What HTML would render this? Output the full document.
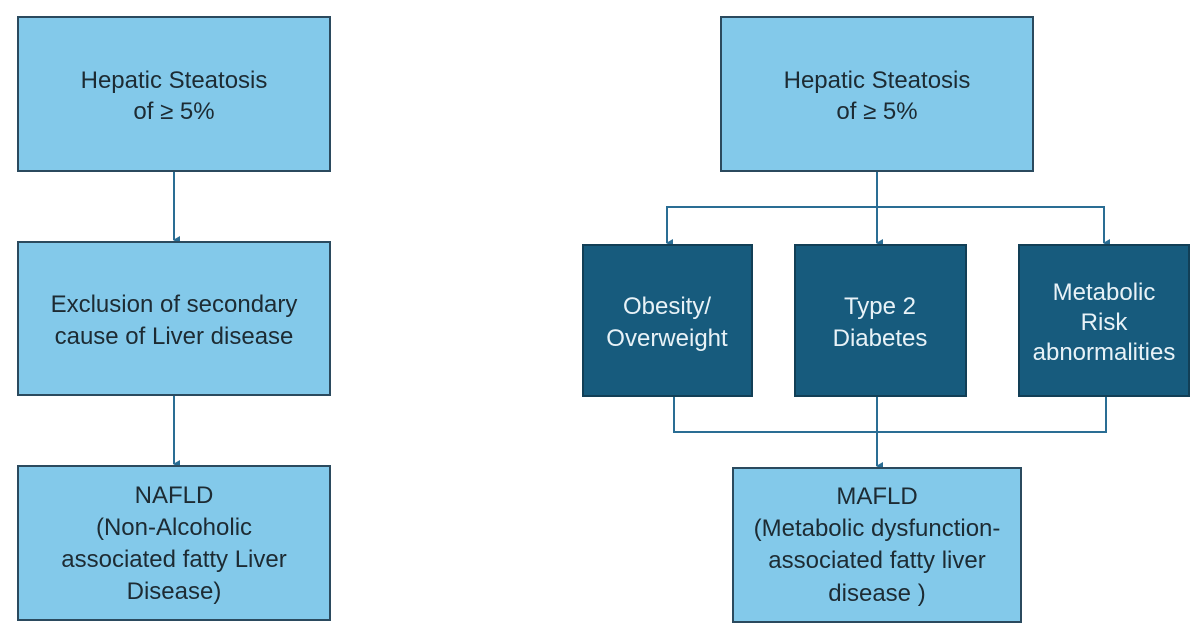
<!DOCTYPE html>
<html><head><meta charset="utf-8"><style>
html,body{margin:0;padding:0;background:#fff;}
svg{display:block;}
text{font-family:"Liberation Sans",sans-serif;font-size:24px;text-anchor:middle;}
.l{fill:#83c9ea;stroke:#2b4a5e;stroke-width:2;}
.d{fill:#175b7d;stroke:#123f56;stroke-width:2;}
.t{fill:#1d2b33;}
.w{fill:#e8f2f7;}
.c{stroke:#2a6d94;stroke-width:2;fill:none;}
</style></head><body>
<svg width="1200" height="641" viewBox="0 0 1200 641" xmlns="http://www.w3.org/2000/svg">
<defs><marker id="a" markerWidth="8" markerHeight="8" refX="4" refY="6" orient="auto" markerUnits="userSpaceOnUse"><path d="M0,0 L8,0 L4,7 z" fill="#2a6d94"/></marker></defs>
<!-- left -->
<rect class="l" x="18" y="17" width="312" height="154"/>
<text class="t" x="174" y="88">Hepatic Steatosis</text>
<text class="t" x="174" y="119">of ≥ 5%</text>
<line class="c" x1="174" y1="172" x2="174" y2="240" marker-end="url(#a)"/>
<rect class="l" x="18" y="242" width="312" height="153"/>
<text class="t" x="174" y="312">Exclusion of secondary</text>
<text class="t" x="174" y="344">cause of Liver disease</text>
<line class="c" x1="174" y1="396" x2="174" y2="464" marker-end="url(#a)"/>
<rect class="l" x="18" y="466" width="312" height="154"/>
<text class="t" x="174" y="503">NAFLD</text>
<text class="t" x="174" y="535">(Non-Alcoholic</text>
<text class="t" x="174" y="567">associated fatty Liver</text>
<text class="t" x="174" y="599">Disease)</text>
<!-- right -->
<rect class="l" x="721" y="17" width="312" height="154"/>
<text class="t" x="877" y="88">Hepatic Steatosis</text>
<text class="t" x="877" y="119">of ≥ 5%</text>
<line class="c" x1="877" y1="172" x2="877" y2="243" marker-end="url(#a)"/>
<polyline class="c" points="667,243 667,207 1104,207 1104,243"/>
<line class="c" x1="667" y1="230" x2="667" y2="243" marker-end="url(#a)"/>
<line class="c" x1="1104" y1="230" x2="1104" y2="243" marker-end="url(#a)"/>
<polyline class="c" points="674,396 674,432 1106,432 1106,396"/>
<line class="c" x1="877" y1="396" x2="877" y2="466" marker-end="url(#a)"/>
<rect class="d" x="583" y="245" width="169" height="151"/>
<rect class="d" x="795" y="245" width="171" height="151"/>
<rect class="d" x="1019" y="245" width="170" height="151"/>
<text class="w" x="667" y="314">Obesity/</text>
<text class="w" x="667" y="346">Overweight</text>
<text class="w" x="880" y="314">Type 2</text>
<text class="w" x="880" y="346">Diabetes</text>
<text class="w" x="1104" y="300">Metabolic</text>
<text class="w" x="1104" y="330">Risk</text>
<text class="w" x="1104" y="360">abnormalities</text>
<rect class="l" x="733" y="468" width="288" height="154"/>
<text class="t" x="877" y="504">MAFLD</text>
<text class="t" x="877" y="536">(Metabolic dysfunction-</text>
<text class="t" x="877" y="568">associated fatty liver</text>
<text class="t" x="877" y="601">disease )</text>
</svg>
</body></html>
